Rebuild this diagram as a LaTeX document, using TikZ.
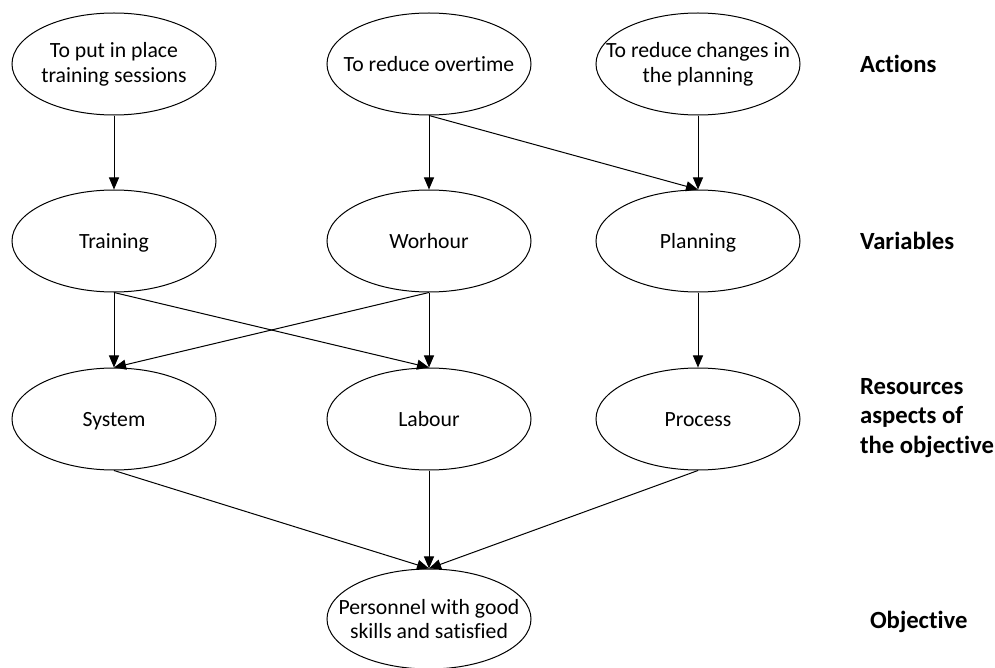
\documentclass[tikz,border=0pt]{standalone}
\usepackage{fontspec}
\setmainfont{Carlito}[Ligatures={NoCommon,NoRequired,NoContextual,NoRare}]
\usetikzlibrary{shapes.geometric, arrows.meta, positioning}

\begin{document}
\begin{tikzpicture}[x=0.5bp, y=-0.5bp]
	\tikzset{arrow/.style={-{Triangle[length=6bp, width=5bp]}, line width=0.5bp}}
	\tikzset{state/.style={draw, ellipse, line width=0.5bp, minimum width=102bp, minimum height=51bp, inner sep=0pt}}
	\tikzset{txt/.style={align=center, font=\fontsize{10.9}{12.5}\selectfont}}
	\tikzset{word/.style={txt, text height=1.8ex, text depth=0.25ex}}
	\tikzset{level/.style={anchor=west, align=left, font=\fontsize{12.4}{15}\selectfont\bfseries}}

	\useasboundingbox (0,0) rectangle (995,668);

	% actions
	\node (act1) [state, label={[txt]center:To put in place\\training sessions}] at (114,64) {};
	\node (act2) [state, label={[word]center:To reduce overtime}] at (429,64) {};
	\node (act3) [state, label={[txt]center:To reduce changes in\\the planning}] at (698,64) {};

	% variables
	\node (var1) [state, label={[word]center:Training}] at (114,241) {};
	\node (var2) [state, label={[word]center:Worhour}] at (429,241) {};
	\node (var3) [state, label={[word]center:Planning}] at (698,241) {};

	% resources
	\node (res1) [state, label={[word]center:System}] at (114,419) {};
	\node (res2) [state, label={[word]center:Labour}] at (429,419) {};
	\node (res3) [state, label={[word]center:Process}] at (698,419) {};

	% objective
	\node (obj) [state, minimum height=50bp, label={[txt]center:Personnel with good\\skills and satisfied}] at (429,619) {};

	% levels
	\node (lact) [level] at (853,64) {Actions};
	\node (lvar) [level] at (853,241) {Variables};
	\node (lres) [level] at (853,418) {Resources\\aspects of\\the objective};
	\node (lobj) [level] at (863,622) {Objective};

	\draw[arrow] (act1.south) -- (var1.north);
	\draw[arrow] (act2.south) -- (var2.north);
	\draw[arrow] (act2.south) -- (var3.north);
	\draw[arrow] (act3.south) -- (var3.north);

	\draw[arrow] (var1.south) -- (res1.north);
	\draw[arrow] (var1.south) -- (res2.north);
	\draw[arrow] (var2.south) -- (res1.north);
	\draw[arrow] (var2.south) -- (res2.north);
	\draw[arrow] (var3.south) -- (res3.north);

	\draw[arrow] (res1.south) -- (obj.north);
	\draw[arrow] (res2.south) -- (obj.north);
	\draw[arrow] (res3.south) -- (obj.north);
\end{tikzpicture}
\end{document}
